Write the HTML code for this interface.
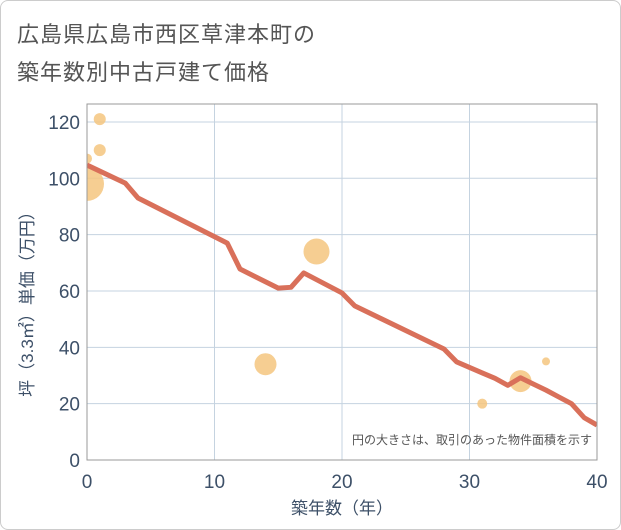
<!DOCTYPE html>
<html><head><meta charset="utf-8"><style>
body{margin:0;background:#fff;}
#wrap{position:relative;width:619px;height:528px;border:1px solid #ccc;border-radius:8px;overflow:hidden;background:#fff;font-family:"Liberation Sans","Noto Sans CJK JP",sans-serif;}
.t{position:absolute;left:16px;font-size:22px;color:#555;letter-spacing:1px;}
</style></head><body>
<div id="wrap">
<div class="t" style="top:16px">広島県広島市西区草津本町の</div>
<div class="t" style="top:54px">築年数別中古戸建て価格</div>
<svg id="c" width="621" height="530" style="position:absolute;left:-1px;top:-1px"><defs><clipPath id="pc"><rect x="87" y="104" width="510" height="356"/></clipPath></defs></svg>
</div>
<script>
const years=[0,3,4,11,12,15,16,17,20,21,28,29,31,32,33,34,35,36,37,38,39,40];
const prices=[104.7,98.3,93,77,67.8,61,61.3,66.4,59.3,54.7,39.4,34.8,30.9,29,26.5,29.2,27,24.8,22.4,20,15,12.4];
const bubbleX=[0,0,1,1,14,18,31,34,36];
const bubbleY=[98,107,121,110,34,74,20,28,35];
const bubbleR=[17,5,6,6,11,13,5,11,4];
const xTicks=[0,10,20,30,40];
const yTicks=[0,20,40,60,80,100,120];
const L=87,R=597,T=104,B=460;
const sx=v=>L+(v/40)*(R-L);
const sy=v=>B-v*2.817;
const svg=document.getElementById('c');
const NS='http://www.w3.org/2000/svg';
function mk(tag,at,parent){const e=document.createElementNS(NS,tag);for(const k in at)e.setAttribute(k,at[k]);(parent||svg).appendChild(e);return e;}
const bg=mk('rect',{x:L,y:T,width:R-L,height:B-T,fill:'#fff',stroke:'#999'});


xTicks.forEach(v=>{const g=mk('line',{x1:sx(v),x2:sx(v),y1:T,y2:B,stroke:'#c5d3e0'});


const t=mk('text',{x:sx(v),y:488,'text-anchor':'middle','font-size':19,fill:'#3d5068'});t.textContent=v;

});
yTicks.forEach(v=>{const g=mk('line',{x1:L,x2:R,y1:sy(v),y2:sy(v),stroke:'#c5d3e0'});


const t=mk('text',{x:80,y:sy(v)+7,'text-anchor':'end','font-size':19,fill:'#3d5068'});t.textContent=v;

});
const grp=mk('g',{'clip-path':'url(#pc)'});


bubbleX.forEach((x,i)=>{const c=mk('circle',{cx:sx(x),cy:sy(bubbleY[i]),r:bubbleR[i],fill:'#f5c67f','fill-opacity':0.85},grp);

});
const ln=mk('polyline',{points:years.map((y,i)=>sx(y)+','+sy(prices[i])).join(' '),fill:'none',stroke:'#d9705a','stroke-width':5,'stroke-linejoin':'round'},grp);


const fr=mk('rect',{x:L,y:T,width:R-L,height:B-T,fill:'none',stroke:'#999'});


const note=mk('text',{x:592,y:444,'text-anchor':'end','font-size':12,fill:'#555'});note.textContent='円の大きさは、取引のあった物件面積を示す';


const xt=mk('text',{x:342,y:514,'text-anchor':'middle','font-size':17,fill:'#3d5068'});xt.textContent='築年数（年）';


const yt=mk('text',{x:0,y:0,'text-anchor':'middle','font-size':17,fill:'#3d5068',transform:'translate(33,300) rotate(-90)'});yt.textContent='坪（3.3㎡）単価（万円）';


</script>
</body></html>
